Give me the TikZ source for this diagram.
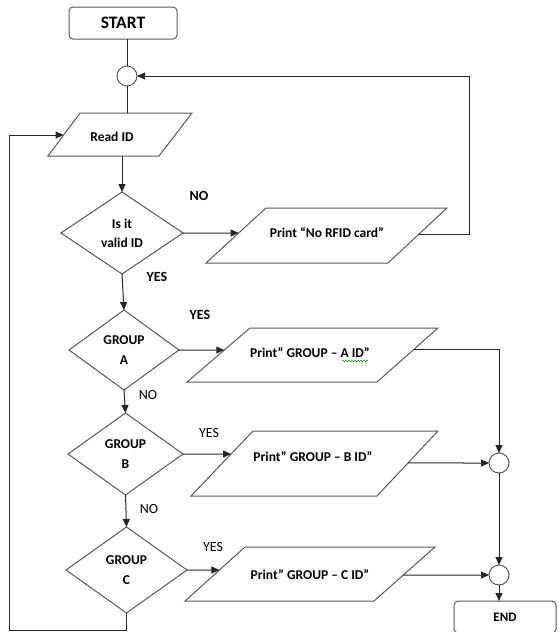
\documentclass[tikz,border=0pt]{standalone}
\usepackage{fontspec}
\setmainfont{Carlito}
\usetikzlibrary{shapes.geometric,arrows.meta,calc,decorations.pathmorphing}
\newcommand\myfs[2]{\fontsize{#1}{#2}\selectfont}
\begin{document}
\begin{tikzpicture}[x=1pt,y=-1pt,
  shp/.style={draw=black!65, line width=1pt, fill=white, inner sep=0pt, outer sep=0pt},
  term/.style={shp, rounded corners=4pt, font=\bfseries\myfs{13}{16}},
  dec/.style={shp, diamond, align=center, font=\bfseries\myfs{13.5}{20}},
  jn/.style={shp, circle, minimum size=20pt},
  txt/.style={inner sep=0pt, font=\bfseries\myfs{13.5}{16}},
  lblb/.style={inner sep=0pt, font=\bfseries\myfs{14}{16}},
  lblr/.style={inner sep=0pt, font=\myfs{14}{16}},
  conn/.style={draw=black!85, line width=1pt},
  arr/.style={conn, -{Triangle[length=8pt,width=7pt]}}]
\useasboundingbox (0,0) rectangle (558,632);

% parallelogram corners
\coordinate (read-bl) at (48,156);  \coordinate (read-tl) at (80,113);
\coordinate (read-tr) at (192,113); \coordinate (read-br) at (159,156);
\coordinate (nr-bl) at (206,263);   \coordinate (nr-tl) at (266,208);
\coordinate (nr-tr) at (447,208);   \coordinate (nr-br) at (388,263);
\coordinate (pA-bl) at (187,382);   \coordinate (pA-tl) at (250,328);
\coordinate (pA-tr) at (438,328);   \coordinate (pA-br) at (377,382);
\coordinate (pB-bl) at (191,496);   \coordinate (pB-tl) at (253,431);
\coordinate (pB-tr) at (438,431);   \coordinate (pB-br) at (377,496);
\coordinate (pC-bl) at (185,601);   \coordinate (pC-tl) at (245,547);
\coordinate (pC-tr) at (435,547);   \coordinate (pC-br) at (374,601);
\foreach \p in {read,nr,pA,pB,pC}
  \draw[shp] (\p-bl) -- (\p-tl) -- (\p-tr) -- (\p-br) -- cycle;

% shapes
\node[term, minimum width=108pt, minimum height=32pt, font=\bfseries\myfs{17.5}{20}] (start) at (123,23) {START};
\node[jn] (c1) at (127,76) {};
\node[txt] (readt) at (112,137) {Read ID};
\node[dec, minimum width=122pt, minimum height=82pt, font=\bfseries\myfs{13.5}{19}] (valid) at (122,233) {Is it\\valid ID};
\node[txt] (nrt) at (327,233) {Print “No RFID card”};
\node[dec, minimum width=110pt, minimum height=80pt] (A) at (124,350) {GROUP\\A};
\node[txt] (pAt) at (310,353) {Print” GROUP – A ID”};
\node[dec, minimum width=115pt, minimum height=82pt] (B) at (125.5,454) {GROUP\\B};
\node[txt] (pBt) at (313,457) {Print” GROUP – B ID”};
\node[dec, minimum width=121pt, minimum height=86pt] (C) at (126.5,570) {GROUP\\C};
\node[txt] (pCt) at (310,575) {Print” GROUP – C ID”};
\node[jn] (c2) at (499,463) {};
\node[jn] (c3) at (499,575) {};
\node[term, minimum width=102pt, minimum height=32pt] (end) at (505,617) {END};

% spell-check squiggle
\draw[green!60!black, line width=0.5pt, decorate, decoration={snake, amplitude=0.8pt, segment length=3pt}] (342,361) -- (368,361);

% labels
\node[lblb] (noV) at (199,196) {NO};
\node[lblb] (yesV) at (157,277) {YES};
\node[lblb] (yesA) at (200,315) {YES};
\node[lblr] (noA) at (148,395) {NO};
\node[lblr] (yesB) at (209,433) {YES};
\node[lblr] (noB) at (149,509) {NO};
\node[lblr] (yesC) at (213,547) {YES};

% connectors
\draw[conn] (c1.north |- start.south) -- (c1.north);
\draw[conn] (c1.south) -- (c1.south |- read-tl);
\draw[arr] (valid.north |- read-bl) -- (valid.north);
\draw[arr] (valid.east) -- ($(nr-bl)!0.5455!(nr-tl)$);
\coordinate (nrR) at (469,76);
\draw[arr] ($(nr-br)!0.527!(nr-tr)$) -| (nrR) -- (c1.east);
\draw[arr] (valid.south) -- (A.north);
\draw[arr] (A.east) -- ($(pA-bl)!0.5926!(pA-tl)$);
\draw[arr] ($(pA-br)!0.611!(pA-tr)$) -| (c2.north);
\draw[arr] (A.south) -- (B.north);
\draw[arr] (B.east) -- ($(pB-bl)!0.646!(pB-tl)$);
\draw[arr] ($(pB-br)!0.508!(pB-tr)$) -- (c2.west);
\draw[arr] (c2.south) -- (c3.north);
\draw[arr] (B.south) -- (C.north);
\draw[arr] (C.east) -- ($(pC-bl)!0.574!(pC-tl)$);
\draw[arr] ($(pC-br)!0.481!(pC-tr)$) -- (c3.west);
\draw[arr] (c3.south) -- (c3.south |- end.north);
\coordinate (lb) at (9,630);
\draw[arr] (C.south) |- (lb) |- ($(read-bl)!0.488!(read-tl)$);
\end{tikzpicture}
\end{document}
